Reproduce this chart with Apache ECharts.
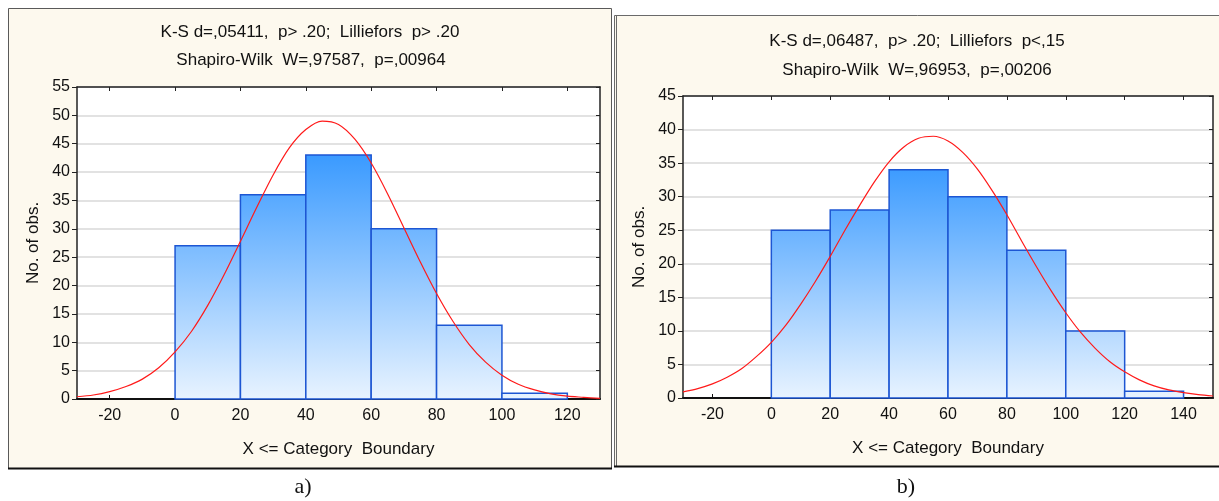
<!DOCTYPE html>
<html>
<head>
<meta charset="utf-8">
<script src="https://cdn.jsdelivr.net/npm/echarts@6/dist/echarts.min.js"></script>
<style>
html,body{margin:0;padding:0;background:#fff;}
#c{width:1219px;height:501px;}
</style>
</head>
<body>
<div id="c"></div>
<script>
// ---- Data: panel a) ----
const binStartA = [0, 20, 40, 60, 80, 100];
const binEndA   = [20, 40, 60, 80, 100, 120];
const countsA   = [27, 36, 43, 30, 13, 1];
const curveXA = [-30,-25,-20,-15,-10,-5,0,5,10,15,20,25,30,35,40,45,50,55,60,65,70,75,80,85,90,95,100,105,110,115,120,125,130];
const curveYA = [0.4,0.7,1.3,2.2,3.5,5.5,8.3,11.9,16.5,21.9,27.8,33.8,39.5,44.3,47.5,49.0,48.4,45.8,41.6,36.2,30.2,24.2,18.6,13.7,9.6,6.5,4.2,2.6,1.6,0.9,0.5,0.3,0.1];
const xTicksA = [-20, 0, 20, 40, 60, 80, 100, 120];
const titleA = ["K-S d=,05411,  p> .20;  Lilliefors  p> .20", "Shapiro-Wilk  W=,97587,  p=,00964"];

// ---- Data: panel b) ----
const binStartB = [0, 20, 40, 60, 80, 100, 120];
const binEndB   = [20, 40, 60, 80, 100, 120, 140];
const countsB   = [25, 28, 34, 30, 22, 10, 1];
const curveXB = [-30,-25,-20,-15,-10,-5,0,5,10,15,20,25,30,35,40,45,50,55,60,65,70,75,80,85,90,95,100,105,110,115,120,125,130,135,140,145,150];
const curveYB = [0.9,1.4,2.1,3.1,4.4,6.2,8.3,10.9,14.0,17.4,21.1,25.0,28.7,32.2,35.2,37.4,38.7,39.0,38.3,36.6,34.1,30.9,27.3,23.4,19.6,16.0,12.7,9.8,7.4,5.4,3.9,2.7,1.8,1.2,0.8,0.5,0.3];
const xTicksB = [-20, 0, 20, 40, 60, 80, 100, 120, 140];
const titleB = ["K-S d=,06487,  p> .20;  Lilliefors  p<,15", "Shapiro-Wilk  W=,96953,  p=,00206"];

const xName = "X <= Category  Boundary";
const yName = "No. of obs.";

const FONT = "'Liberation Sans', Arial, sans-serif";
const chart = echarts.init(document.getElementById('c'), null, {renderer: 'canvas'});

function hist(starts, ends, counts) {
  return starts.map((s, i) => [s, ends[i], counts[i]]);
}
function pairs(xs, ys) { return xs.map((x, i) => [x, ys[i]]); }

function makeRender(topVal) {
  return function (params, api) {
    const x0 = api.value(0), x1 = api.value(1), v = api.value(2);
    const p0 = api.coord([x0, v]);
    const p1 = api.coord([x1, 0]);
    const yTop = api.coord([0, topVal])[1];
    const yBot = api.coord([0, 0])[1];
    return {
      type: 'rect',
      shape: {x: p0[0], y: p0[1], width: p1[0] - p0[0], height: p1[1] - p0[1]},
      style: {
        fill: new echarts.graphic.LinearGradient(0, yTop, 0, yBot, [
          {offset: 0, color: '#2e94ff'},
          {offset: 1, color: '#e8f3ff'}
        ], true),
        stroke: '#1d56d3',
        lineWidth: 1.5
      }
    };
  };
}

function xAxes(gi, min, max, ticks) {
  return [
    {
      type: 'value', gridIndex: gi, min: min, max: max, position: 'bottom',
      axisLine: {show: true, onZero: false, lineStyle: {color: '#111', width: 2}},
      axisTick: {show: true, inside: true, length: 4, customValues: ticks, lineStyle: {color: '#111'}},
      axisLabel: {show: true, customValues: ticks, color: '#111', fontFamily: FONT, fontSize: 16, margin: 9},
      splitLine: {show: false},
      name: xName, nameLocation: 'middle', nameGap: 42,
      nameTextStyle: {color: '#111', fontFamily: FONT, fontSize: 17}
    },
    {
      type: 'value', gridIndex: gi, min: min, max: max, position: 'top',
      axisLine: {show: true, onZero: false, lineStyle: {color: '#222', width: 1.5}},
      axisTick: {show: true, inside: true, length: 4, customValues: ticks, lineStyle: {color: '#222'}},
      axisLabel: {show: false},
      splitLine: {show: false}
    }
  ];
}
function yAxes(gi, max) {
  return [
    {
      type: 'value', gridIndex: gi, min: 0, max: max, interval: 5, position: 'left',
      axisLine: {show: true, onZero: false, lineStyle: {color: '#222', width: 1.5}},
      axisTick: {show: true, inside: false, length: 5, lineStyle: {color: '#222'}},
      axisLabel: {color: '#111', fontFamily: FONT, fontSize: 16, margin: 7},
      splitLine: {show: true, lineStyle: {color: '#e2e2e2', width: 2}},
      name: yName, nameLocation: 'middle', nameGap: 35,
      nameTextStyle: {color: '#111', fontFamily: FONT, fontSize: 17}
    },
    {
      type: 'value', gridIndex: gi, min: 0, max: max, interval: 5, position: 'right',
      axisLine: {show: true, onZero: false, lineStyle: {color: '#222', width: 1.5}},
      axisTick: {show: true, inside: true, length: 4, lineStyle: {color: '#222'}},
      axisLabel: {show: false},
      splitLine: {show: false}
    }
  ];
}

const xa = xAxes(0, -30, 130, xTicksA).concat(xAxes(1, -30, 150, xTicksB));
const ya = yAxes(0, 55).concat(yAxes(1, 45));

function txt(x, y, s, size, family) {
  return {type: 'text', x: x, y: y, silent: true,
    style: {text: s, fill: '#111', font: size + 'px ' + (family || FONT), textAlign: 'center', textVerticalAlign: 'middle'}};
}

const option = {
  backgroundColor: '#ffffff',
  animation: false,
  graphic: [
    {type: 'rect', z: -10, shape: {x: 8.5, y: 8.5, width: 603, height: 460},
      style: {fill: '#fdf9ee', stroke: '#5a5a5a', lineWidth: 1}},
    {type: 'line', z: -9, shape: {x1: 8, y1: 468.5, x2: 612, y2: 468.5}, style: {stroke: '#111', lineWidth: 2}},
    {type: 'rect', z: -10, shape: {x: 614.5, y: 15.5, width: 610, height: 451},
      style: {fill: '#fdf9ee', stroke: '#6a6a6a', lineWidth: 1}},
    {type: 'line', z: -9, shape: {x1: 616.5, y1: 16, x2: 616.5, y2: 466}, style: {stroke: '#6a6a6a', lineWidth: 1}},
    {type: 'line', z: -9, shape: {x1: 614, y1: 466.5, x2: 1219, y2: 466.5}, style: {stroke: '#111', lineWidth: 2}},
    txt(310, 32, titleA[0], 17),
    txt(311, 60, titleA[1], 17),
    txt(917, 41, titleB[0], 17),
    txt(917, 70, titleB[1], 17),
    txt(303, 487, 'a)', 22, "'Liberation Serif', 'Times New Roman', serif"),
    txt(906, 487, 'b)', 22, "'Liberation Serif', 'Times New Roman', serif")
  ],
  grid: [
    {left: 77, top: 87, width: 523, height: 312, show: true, backgroundColor: '#ffffff', borderWidth: 0},
    {left: 683, top: 96, width: 530, height: 302, show: true, backgroundColor: '#ffffff', borderWidth: 0}
  ],
  xAxis: xa,
  yAxis: ya,
  series: [
    {type: 'custom', xAxisIndex: 0, yAxisIndex: 0, renderItem: makeRender(46),
      encode: {x: [0, 1], y: 2}, data: hist(binStartA, binEndA, countsA), z: 2},
    {type: 'line', xAxisIndex: 0, yAxisIndex: 0, data: pairs(curveXA, curveYA), smooth: 0.3,
      showSymbol: false, symbol: 'none', lineStyle: {color: '#ff1a1a', width: 1.2}, z: 5},
    {type: 'custom', xAxisIndex: 2, yAxisIndex: 2, renderItem: makeRender(37),
      encode: {x: [0, 1], y: 2}, data: hist(binStartB, binEndB, countsB), z: 2},
    {type: 'line', xAxisIndex: 2, yAxisIndex: 2, data: pairs(curveXB, curveYB), smooth: 0.3,
      showSymbol: false, symbol: 'none', lineStyle: {color: '#ff1a1a', width: 1.2}, z: 5}
  ]
};
chart.setOption(option);
</script>
</body>
</html>
